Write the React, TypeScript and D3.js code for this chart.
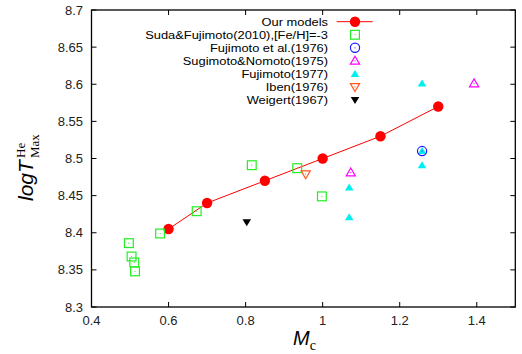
import React from "react";
import * as d3 from "d3";

// Our models
const modelMc = [0.6, 0.7, 0.85, 1.0, 1.15, 1.3];
const modelT = [8.405, 8.44, 8.47, 8.5, 8.53, 8.57];

// Suda & Fujimoto (2010), [Fe/H] = -3
const sudaMc = [0.497, 0.504, 0.511, 0.513, 0.578, 0.673, 0.816, 0.934, 0.998];
const sudaT = [8.386, 8.368, 8.36, 8.348, 8.399, 8.429, 8.491, 8.487, 8.449];

// Fujimoto et al. (1976)
const fuj76Mc = [1.258];
const fuj76T = [8.51];

// Sugimoto & Nomoto (1975)
const sugMc = [1.073, 1.393];
const sugT = [8.481, 8.601];

// Fujimoto (1977)
const fuj77Mc = [1.258, 1.258, 1.258, 1.069, 1.069];
const fuj77T = [8.601, 8.51, 8.491, 8.461, 8.421];

// Iben (1976)
const ibenMc = [0.956];
const ibenT = [8.479];

// Weigert (1967)
const weigMc = [0.803];
const weigT = [8.414];

const xTicks = [0.4, 0.6, 0.8, 1.0, 1.2, 1.4];
const xTickLabels = ["0.4", "0.6", "0.8", "1", "1.2", "1.4"];
const yTicks = [8.3, 8.35, 8.4, 8.45, 8.5, 8.55, 8.6, 8.65, 8.7];
const yTickLabels = ["8.3", "8.35", "8.4", "8.45", "8.5", "8.55", "8.6", "8.65", "8.7"];

const legendLabels = [
  "Our models",
  "Suda&Fujimoto(2010),[Fe/H]=-3",
  "Fujimoto et al.(1976)",
  "Sugimoto&Nomoto(1975)",
  "Fujimoto(1977)",
  "Iben(1976)",
  "Weigert(1967)",
];

const W = 522;
const H = 354;
const left = 91.5;
const right = 515.3;
const top = 10;
const bottom = 307;

const x = d3.scaleLinear().domain([0.4, 1.5]).range([left, right]);
const y = d3.scaleLinear().domain([8.3, 8.7]).range([bottom, top]);

const font = "'Liberation Sans', Arial, Helvetica, sans-serif";
const serif = "'Liberation Serif', 'DejaVu Serif', serif";

type Kind = "circleFill" | "square" | "circleOpen" | "triUp" | "triUpFill" | "triDown" | "triDownFill";

function Marker({ cx, cy, kind, color }: { cx: number; cy: number; kind: Kind; color: string }) {
  const dot = <circle cx={cx} cy={cy} r={0.6} fill={color} />;
  const s = 4.4;
  if (kind === "circleFill") return <circle cx={cx} cy={cy} r={5.2} fill={color} />;
  if (kind === "square")
    return (
      <g>
        <rect x={cx - s} y={cy - s} width={2 * s} height={2 * s} fill="none" stroke={color} strokeWidth={1.2} />
        {dot}
      </g>
    );
  if (kind === "circleOpen")
    return (
      <g>
        <circle cx={cx} cy={cy} r={4.6} fill="none" stroke={color} strokeWidth={1.2} />
        {dot}
      </g>
    );
  const up = kind === "triUp" || kind === "triUpFill";
  const filled = kind === "triUpFill" || kind === "triDownFill";
  const hw = filled ? 4.3 : 4.6;
  const ht = filled ? 4.0 : 4.6;
  const hb = filled ? 3.0 : 3.3;
  const pts = up
    ? [[cx, cy - ht], [cx + hw, cy + hb], [cx - hw, cy + hb]]
    : [[cx, cy + ht], [cx + hw, cy - hb], [cx - hw, cy - hb]];
  const d = "M" + pts.map((p) => p.join(",")).join("L") + "Z";
  return (
    <g>
      <path d={d} fill={filled ? color : "none"} stroke={filled ? "none" : color} strokeWidth={1.2} />
      {!filled && dot}
    </g>
  );
}

const series: { mc: number[]; t: number[]; kind: Kind; color: string }[] = [
  { mc: sudaMc, t: sudaT, kind: "square", color: "#22ee22" },
  { mc: fuj77Mc, t: fuj77T, kind: "triUpFill", color: "#00f0f0" },
  { mc: fuj76Mc, t: fuj76T, kind: "circleOpen", color: "#1a1aff" },
  { mc: sugMc, t: sugT, kind: "triUp", color: "#ff00ff" },
  { mc: ibenMc, t: ibenT, kind: "triDown", color: "#ff5a1e" },
  { mc: weigMc, t: weigT, kind: "triDownFill", color: "#000000" },
];

const legendKinds: { kind: Kind; color: string }[] = [
  { kind: "circleFill", color: "#ff0000" },
  { kind: "square", color: "#22ee22" },
  { kind: "circleOpen", color: "#1a1aff" },
  { kind: "triUp", color: "#ff00ff" },
  { kind: "triUpFill", color: "#00f0f0" },
  { kind: "triDown", color: "#ff5a1e" },
  { kind: "triDownFill", color: "#000000" },
];

export default function App() {
  const line = d3
    .line<number>()
    .x((_, i) => x(modelMc[i]))
    .y((d) => y(d));
  const tickLen = 5;
  const legendX = 328;
  const legendY0 = 21.7;
  const legendDy = 13.05;
  const symX = 355;

  return (
    <svg width={W} height={H} style={{ position: "absolute", left: 0, top: 0, background: "#fff" }}>
      {/* ticks */}
      {xTicks.map((t, i) => (
        <g key={"x" + i}>
          <line x1={x(t)} x2={x(t)} y1={bottom} y2={bottom - tickLen} stroke="#000" strokeWidth={1} />
          <line x1={x(t)} x2={x(t)} y1={top} y2={top + tickLen} stroke="#000" strokeWidth={1} />
          <text x={x(t)} y={325} textAnchor="middle" fontFamily={font} fontSize={13} fill="#222">
            {xTickLabels[i]}
          </text>
        </g>
      ))}
      {yTicks.map((t, i) => (
        <g key={"y" + i}>
          <line x1={left} x2={left + tickLen} y1={y(t)} y2={y(t)} stroke="#000" strokeWidth={1} />
          <line x1={right} x2={right - tickLen} y1={y(t)} y2={y(t)} stroke="#000" strokeWidth={1} />
          <text x={83} y={y(t) + 4.6} textAnchor="end" fontFamily={font} fontSize={13} fill="#222">
            {yTickLabels[i]}
          </text>
        </g>
      ))}
      <rect x={left} y={top} width={right - left} height={bottom - top} fill="none" stroke="#000" strokeWidth={1.3} />

      {/* model curve */}
      <path d={line(modelT) ?? ""} fill="none" stroke="#ff0000" strokeWidth={1} />
      {modelMc.map((m, i) => (
        <Marker key={"m" + i} cx={x(m)} cy={y(modelT[i])} kind="circleFill" color="#ff0000" />
      ))}

      {/* literature values */}
      {series.map((s, si) =>
        s.mc.map((m, i) => <Marker key={si + "-" + i} cx={x(m)} cy={y(s.t[i])} kind={s.kind} color={s.color} />)
      )}

      {/* legend */}
      {legendLabels.map((lab, i) => {
        const cy = legendY0 + i * legendDy;
        return (
          <g key={"l" + i}>
            <text
              transform={`translate(${legendX},${cy + 4.2}) scale(1.14,1)`}
              textAnchor="end"
              fontFamily={font}
              fontSize={11.3}
              fill="#000"
            >
              {lab}
            </text>
            {i === 0 && <line x1={336.7} x2={372.7} y1={cy} y2={cy} stroke="#ff0000" strokeWidth={1} />}
            <Marker cx={symX} cy={cy} kind={legendKinds[i].kind} color={legendKinds[i].color} />
          </g>
        );
      })}

      {/* axis titles */}
      <text x={293} y={345} fontFamily={font} fontSize={20} fontStyle="italic" fill="#000">
        M
        <tspan fontFamily={serif} fontStyle="normal" fontSize={14} dy={5}>
          c
        </tspan>
      </text>
      <g transform="translate(33,201) rotate(-90)">
        <text x={0} y={0} fontFamily={font} fontSize={21} fontStyle="italic" fill="#000">
          logT
        </text>
        <text x={43} y={-8} fontFamily={serif} fontSize={13} fill="#000">
          He
        </text>
        <text x={43} y={5.5} fontFamily={serif} fontSize={13} fill="#000">
          Max
        </text>
      </g>
    </svg>
  );
}
